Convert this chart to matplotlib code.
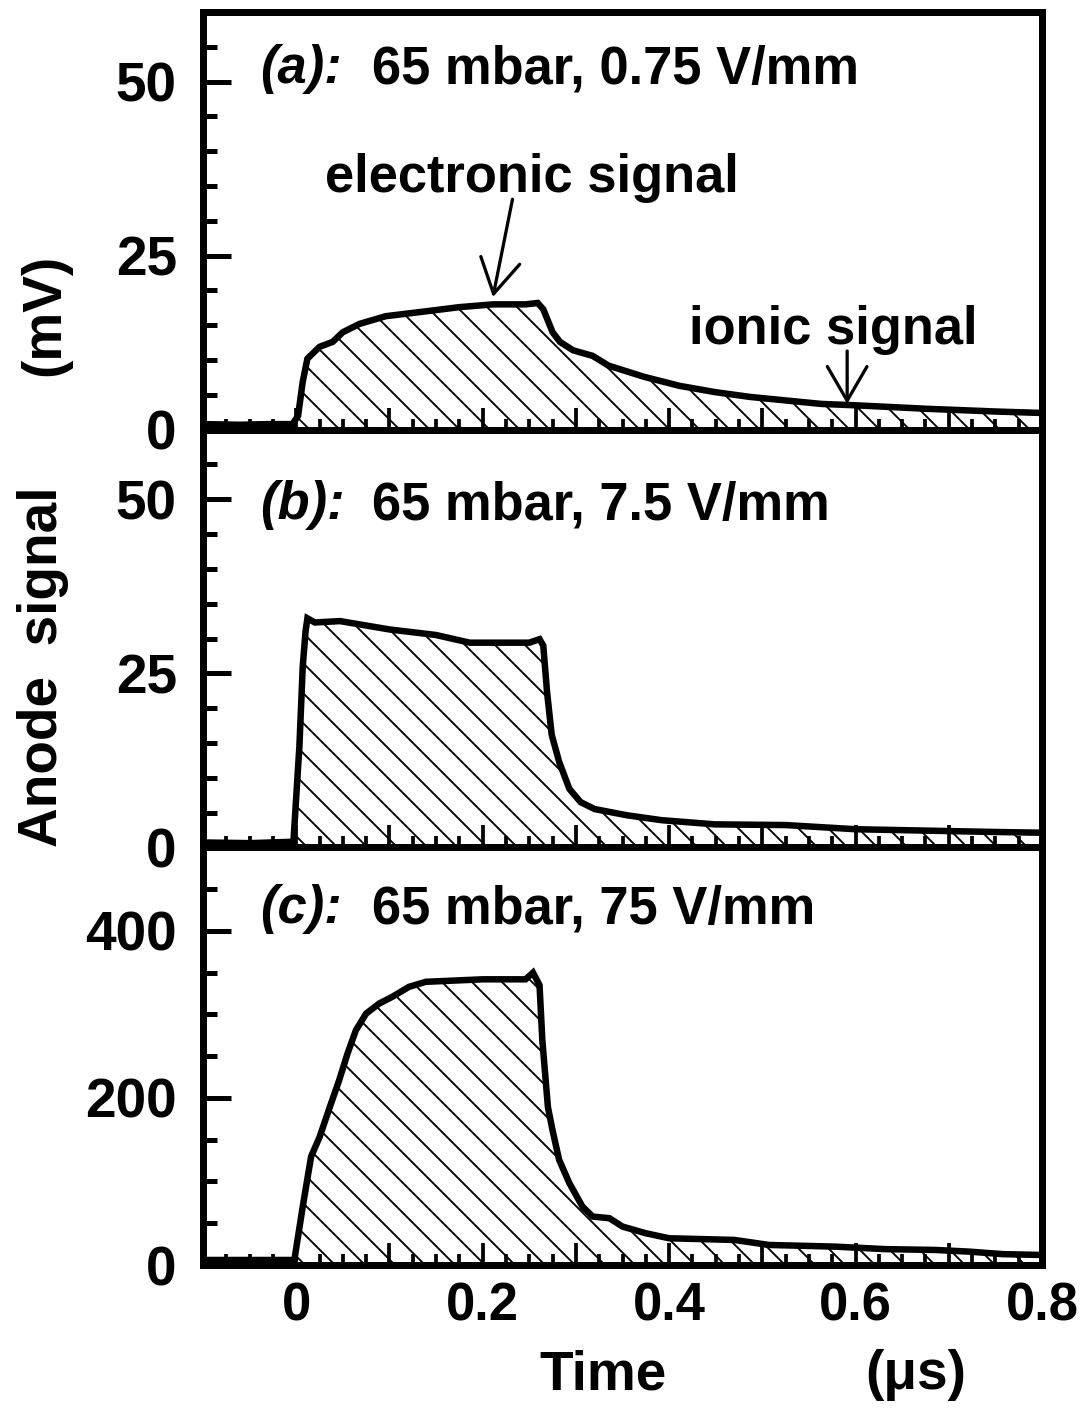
import matplotlib
matplotlib.use("Agg")
import matplotlib.pyplot as plt
from matplotlib.ticker import MultipleLocator, FuncFormatter

# ---- measured anode signals (time in microseconds) ----
# (a) 65 mbar, 0.75 V/mm  -- signal in mV
t_a = [-0.10, -0.06, -0.03, -0.004, 0.002, 0.007, 0.012, 0.025, 0.039, 0.050,
       0.068, 0.096, 0.139, 0.175, 0.211, 0.246, 0.259, 0.265, 0.275, 0.283,
       0.297, 0.318, 0.335, 0.373, 0.411, 0.449, 0.487, 0.525, 0.563, 0.600,
       0.676, 0.752, 0.800]
v_a = [0.8, 0.7, 0.8, 0.8, 2.0, 6.9, 10.2, 11.9, 12.6, 14.0,
       15.2, 16.3, 17.0, 17.6, 18.0, 18.0, 18.2, 17.3, 14.0, 12.6,
       11.4, 10.6, 9.2, 7.6, 6.3, 5.4, 4.7, 4.2, 3.7, 3.5,
       3.0, 2.6, 2.4]

# (b) 65 mbar, 7.5 V/mm  -- signal in mV
t_b = [-0.10, -0.05, -0.003, 0.0034, 0.007, 0.010, 0.012, 0.020, 0.047, 0.100,
       0.150, 0.186, 0.250, 0.261, 0.265, 0.269, 0.274, 0.282, 0.293, 0.305,
       0.320, 0.355, 0.392, 0.449, 0.525, 0.600, 0.676, 0.752, 0.800]
v_b = [0.7, 0.6, 0.8, 14.5, 26.0, 31.0, 32.9, 32.3, 32.5, 31.3,
       30.5, 29.4, 29.4, 29.9, 29.0, 22.4, 16.2, 12.3, 8.4, 6.5,
       5.5, 4.6, 3.9, 3.3, 3.2, 2.6, 2.4, 2.2, 2.1]

# (c) 65 mbar, 75 V/mm  -- signal in mV
t_c = [-0.10, -0.05, -0.002, 0.007, 0.016, 0.025, 0.036, 0.046, 0.055, 0.064,
       0.075, 0.089, 0.103, 0.121, 0.139, 0.200, 0.246, 0.254, 0.261, 0.264,
       0.270, 0.275, 0.282, 0.293, 0.307, 0.318, 0.336, 0.350, 0.375, 0.400,
       0.470, 0.507, 0.578, 0.632, 0.686, 0.722, 0.758, 0.800]
v_c = [6, 6, 6, 70, 130, 153, 189, 221, 253, 281,
       301, 313, 321, 333, 339, 342, 342, 350, 335, 269,
       189, 161, 126, 98, 70, 58, 56, 46, 38, 32,
       30, 24, 22, 19, 18, 16, 13, 12]

panel_tags = ["(a):", "(b):", "(c):"]
panel_conditions = ["65 mbar, 0.75 V/mm", "65 mbar, 7.5 V/mm", "65 mbar, 75 V/mm"]
y_limits = [(0, 60), (0, 60), (0, 500)]
y_major = [25, 25, 200]
y_minor = [5, 5, 50]
x_limits = (-0.1, 0.8)

plt.rcParams["font.family"] = ["Liberation Sans", "DejaVu Sans"]
plt.rcParams["font.weight"] = "bold"
plt.rcParams["hatch.linewidth"] = 0.75
plt.rcParams["hatch.color"] = "black"

W, H, DPI = 1080, 1412, 180
fig = plt.figure(figsize=(W / DPI, H / DPI), dpi=DPI)
fig.patch.set_facecolor("white")

left_px, right_px, top_px, bottom_px = 203, 1042, 12, 1265
panel_h = (bottom_px - top_px) / 3.0

series = [(t_a, v_a), (t_b, v_b), (t_c, v_c)]
tag_y = [0.83, 0.786, 0.818]
axes = []
for i, (t, v) in enumerate(series):
    y_bot = 1 - (top_px + (i + 1) * panel_h) / H
    ax = fig.add_axes([left_px / W, y_bot, (right_px - left_px) / W, panel_h / H])
    axes.append(ax)

    inside = [tt >= 0 for tt in t]
    ax.fill_between(t, 0, v, where=inside, interpolate=True,
                    facecolor="none", edgecolor="black", hatch="\\\\",
                    linewidth=0)
    ax.plot(t, v, color="black", lw=2.6, solid_joinstyle="miter")

    ax.set_xlim(*x_limits)
    ax.set_ylim(*y_limits[i])

    ax.xaxis.set_major_locator(MultipleLocator(0.1))
    ax.xaxis.set_minor_locator(MultipleLocator(0.025))
    ax.yaxis.set_major_locator(MultipleLocator(y_major[i]))
    ax.yaxis.set_minor_locator(MultipleLocator(y_minor[i]))

    ax.tick_params(axis="x", which="both", direction="in", top=False,
                   labelsize=21, pad=6.5)
    ax.tick_params(axis="x", which="major", length=9, width=1.5)
    ax.tick_params(axis="x", which="minor", length=4.5, width=1.5)
    ax.tick_params(axis="y", which="both", direction="in", right=False,
                   labelsize=22, pad=10.5)
    ax.tick_params(axis="y", which="major", length=11, width=2.0)
    ax.tick_params(axis="y", which="minor", length=5.5, width=2.0)
    for lab in ax.get_yticklabels():
        lab.set_fontweight("bold")

    for sp in ax.spines.values():
        sp.set_linewidth(2.8)

    ax.text(0.068, tag_y[i], panel_tags[i], transform=ax.transAxes,
            fontsize=21, fontweight="bold", fontstyle="italic",
            ha="left", va="baseline")
    ax.text(0.2014, tag_y[i], panel_conditions[i], transform=ax.transAxes,
            fontsize=21, fontweight="bold", ha="left", va="baseline")

    if i < 2:
        ax.tick_params(axis="x", labelbottom=False)


def x_label(x, pos):
    k = int(round(x * 10))
    if k < 0 or k % 2:
        return ""
    return "0" if k == 0 else f"{x:.1f}"


axes[2].xaxis.set_major_formatter(FuncFormatter(x_label))
for lab in axes[2].get_xticklabels():
    lab.set_fontweight("bold")

# annotations in panel (a)
arrow_kw = dict(arrowstyle="->,head_length=0.62,head_width=0.36",
                color="black", lw=1.3, shrinkA=0, shrinkB=0, mutation_scale=22)
ax = axes[0]
ax.text(0.253, 34.2, "electronic signal", fontsize=21, fontweight="bold",
        ha="center", va="baseline")
ax.annotate("", xy=(0.211, 19.05), xytext=(0.232, 33.1), arrowprops=arrow_kw)
ax.text(0.576, 12.3, "ionic signal", fontsize=21, fontweight="bold",
        ha="center", va="baseline")
ax.annotate("", xy=(0.591, 3.7), xytext=(0.591, 11.3), arrowprops=arrow_kw)

# axis titles
fig.text(43 / W, 1 - 667 / H, "Anode  signal", rotation=90, fontsize=22,
         fontweight="bold", ha="center", va="center")
fig.text(45 / W, 1 - 315 / H, "(mV)", rotation=90, fontsize=22,
         fontweight="bold", ha="center", va="center")
fig.text(603 / W, 1 - 1375 / H, "Time", fontsize=22, fontweight="bold",
         ha="center", va="center")
fig.text(916 / W, 1 - 1375 / H, "(\u03bcs)", fontsize=22, fontweight="bold",
         ha="center", va="center")

fig.savefig("out.png", dpi=DPI, facecolor="white")
